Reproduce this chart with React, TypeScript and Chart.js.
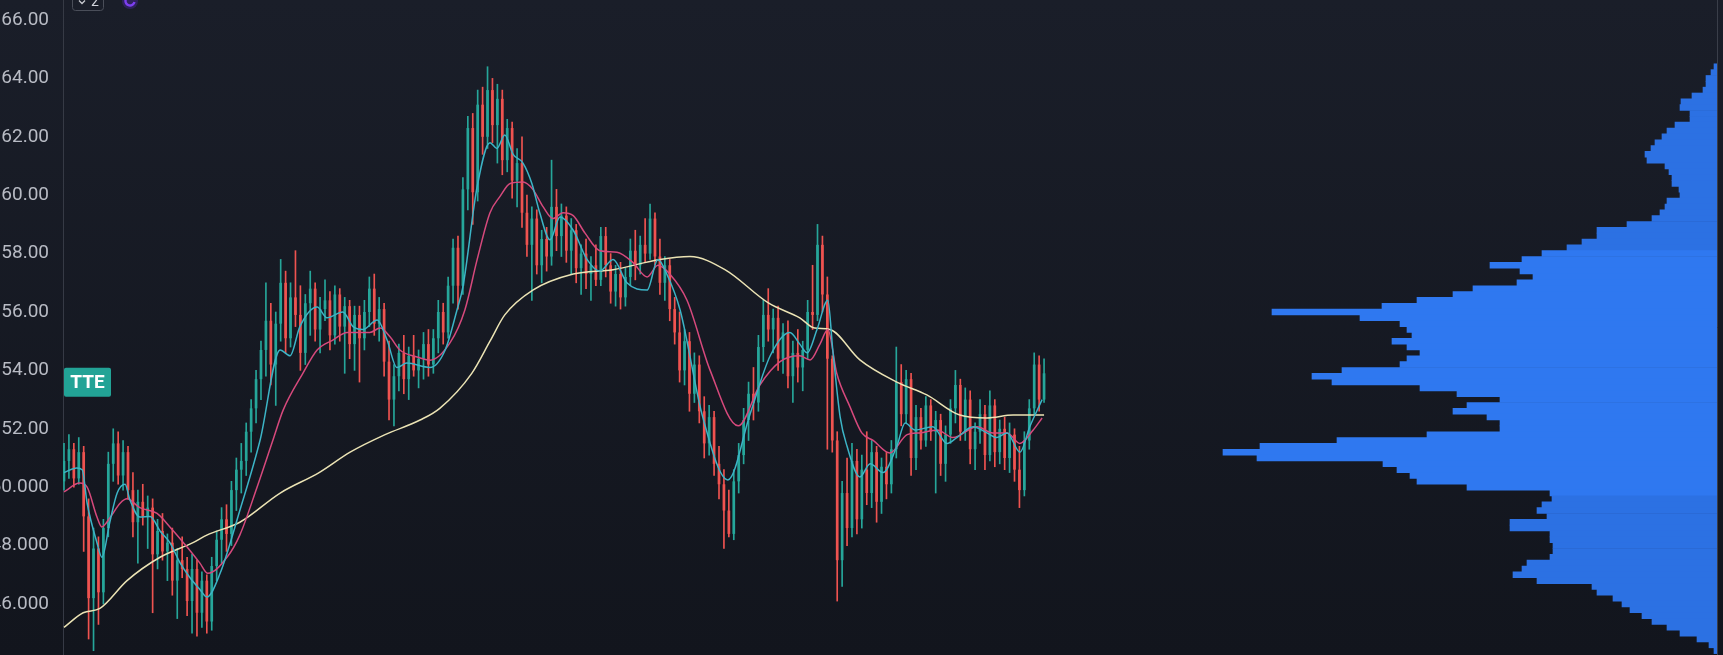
import React, { useEffect, useRef } from "react";
import { Chart, registerables } from "chart.js";

Chart.register(...registerables);

// ---------------- DATA ----------------
const symbol = "TTE";
const paneBadge = "2";

const opens = [
  50.2, 50.9, 51.3, 50.3, 51.2, 49.0, 46.2, 47.9, 46.4, 48.6,
  50.8, 51.5, 50.4, 51.2, 49.9, 48.8, 49.5, 49.0, 49.3, 47.7,
  48.5, 47.8, 48.1, 46.8, 47.5, 47.2, 46.1, 47.2, 45.7, 46.8,
  45.4, 47.3, 48.2, 48.9, 48.4, 49.9, 50.6, 50.9, 51.9, 52.7,
  53.7, 54.7, 55.7, 54.2, 55.6, 57.0, 55.1, 56.5, 55.9, 54.6,
  56.3, 56.8, 55.4, 56.1, 56.4, 55.2, 56.6, 55.5, 56.2, 54.9,
  55.9, 55.1, 56.0, 56.8, 55.6, 56.1, 54.3, 53.0, 53.8, 54.6,
  53.7, 54.5, 54.0, 54.4, 54.9, 54.2, 55.1, 56.0, 55.3, 56.9,
  58.2, 56.9, 60.2, 62.3, 60.1, 63.1, 62.0, 63.6, 62.4, 63.3,
  61.2, 62.3, 60.5, 61.1, 59.4, 58.3, 59.2, 57.6, 58.5, 57.9,
  59.6, 58.6, 59.3, 58.1, 58.8, 57.5, 58.0, 57.3, 57.6, 57.1,
  58.6, 57.6, 56.7, 57.3, 56.5, 57.2, 58.1, 57.6, 58.3, 58.0,
  59.2, 57.9, 57.0, 57.6, 56.1, 55.3, 54.0, 55.0, 53.2, 54.2,
  52.6, 51.5, 52.4, 50.8, 50.1, 49.2, 48.4, 50.2, 51.1, 52.3,
  53.2, 52.9, 54.8, 55.9, 55.4, 55.8, 54.4, 55.3, 53.8, 54.6,
  54.1, 54.7, 56.0, 55.9, 58.3, 56.6, 54.4, 51.6, 47.5, 49.8,
  48.6, 50.9, 48.9, 50.6, 49.8, 51.2, 49.5, 50.7, 50.1, 51.3,
  53.6, 52.5, 53.7, 51.0, 52.4, 51.6, 52.8, 51.9, 52.3, 50.8,
  51.8, 52.7, 53.5, 51.9, 53.0, 51.3, 51.9, 52.5, 51.1, 52.8,
  51.2, 52.0, 51.0, 51.8, 50.6, 49.9, 51.6, 52.7, 54.2, 53.0,
];

const highs = [
  51.5, 51.8, 51.5, 51.7, 51.4, 49.6, 48.6, 48.3, 48.9, 51.2,
  52.0, 51.9, 51.6, 51.4, 50.5, 49.9, 50.1, 49.7, 49.6, 48.9,
  49.1, 48.4, 48.6, 47.9, 48.3, 47.6, 47.7, 47.5, 47.1, 47.0,
  47.6, 48.5, 49.3, 49.4, 50.2, 51.0, 51.5, 52.2, 53.0, 54.0,
  55.0, 57.0, 56.3, 56.0, 57.8, 57.4, 57.0, 58.1, 56.9, 56.6,
  57.4, 57.0, 56.5, 57.1, 56.7, 56.9, 56.8, 56.5, 56.4, 56.2,
  56.2, 56.4, 57.2, 57.3, 56.5, 56.3, 55.0, 54.2, 54.9, 55.2,
  54.8, 55.2, 54.7, 55.3, 55.4, 55.4, 56.4, 56.3, 57.2, 58.5,
  58.6, 60.6, 62.7, 62.8, 63.6, 63.7, 64.4, 64.0, 63.8, 63.6,
  62.6, 62.5, 61.6, 62.0, 60.0, 59.6, 59.5, 58.8, 58.9, 61.2,
  60.2, 59.7, 59.6, 59.2, 59.0, 58.3, 58.5, 57.9, 58.3, 58.9,
  58.9, 58.0, 57.6, 57.7, 57.5, 58.5, 58.8, 58.6, 59.2, 59.7,
  59.4, 58.5, 57.9, 57.8, 56.5, 56.0, 55.4, 55.3, 54.6, 54.5,
  53.1, 52.8, 52.6, 51.4, 50.6, 49.9, 50.6, 51.5, 52.7, 53.6,
  54.1, 55.2, 56.4, 56.8, 56.1, 56.2, 55.6, 55.7, 55.0, 55.4,
  55.0, 56.4, 57.6, 59.0, 58.6, 57.2, 54.5, 51.9, 50.2, 51.0,
  51.5, 51.3, 51.1, 51.9, 51.6, 51.4, 51.0, 51.2, 51.6, 54.8,
  54.2, 54.0, 53.9, 52.8, 52.7, 53.1, 53.0, 52.6, 52.5, 52.1,
  53.0, 54.0, 53.7, 53.4, 53.3, 52.2, 53.0, 52.8, 53.3, 53.0,
  52.3, 52.4, 52.2, 52.0, 51.4, 51.9, 53.0, 54.6, 54.5, 54.4,
];

const lows = [
  49.9, 50.3, 50.0, 50.1, 47.8, 44.8, 44.4, 45.3, 46.0, 48.3,
  50.2, 50.1, 49.9, 49.6, 48.3, 47.4, 48.7, 47.9, 45.7, 47.2,
  47.5, 46.8, 46.3, 45.5, 46.9, 45.6, 45.0, 44.9, 45.2, 45.0,
  45.1, 46.8, 47.4, 47.8, 48.0, 49.2, 49.8, 50.4, 51.2, 52.2,
  53.0, 53.8, 53.5, 52.8, 55.0, 54.6, 54.8, 55.5, 54.0, 54.2,
  55.2, 55.0, 54.6, 55.7, 54.7, 54.9, 55.0, 53.9, 54.4, 54.0,
  53.6, 54.7, 55.5, 55.2, 55.0, 53.8, 52.3, 52.1, 53.3, 53.2,
  53.0, 53.8, 53.4, 53.7, 53.8, 53.9, 54.6, 54.9, 55.1, 56.3,
  56.1, 56.6, 59.5, 59.0, 59.8, 61.4, 61.6, 61.8, 61.1, 60.7,
  60.8, 59.9, 59.6, 58.9, 57.9, 56.4, 57.3, 57.0, 57.4, 57.6,
  58.1, 57.9, 57.7, 57.3, 57.0, 56.6, 56.8, 56.4, 56.9, 56.9,
  57.2, 56.3, 56.2, 56.1, 56.2, 56.9, 57.1, 57.3, 57.7, 57.8,
  57.6, 56.6, 56.4, 55.7, 54.9, 53.6, 53.5, 52.6, 52.9, 52.2,
  51.0, 51.1, 50.4, 49.6, 47.9, 48.3, 48.2, 49.8, 50.8, 51.6,
  52.3, 52.6, 54.3, 55.0, 54.6, 54.0, 53.9, 53.4, 52.9, 53.6,
  53.3, 54.4, 55.4, 55.7, 56.0, 51.3, 51.2, 46.1, 46.6, 48.0,
  48.3, 48.4, 48.6, 49.4, 49.3, 48.8, 49.1, 49.6, 49.8, 51.0,
  52.1, 52.2, 50.4, 50.6, 51.3, 51.4, 51.6, 49.8, 50.4, 50.2,
  51.5, 52.2, 51.6, 51.6, 50.8, 50.6, 51.5, 50.6, 50.9, 50.7,
  50.8, 50.6, 50.5, 50.2, 49.3, 49.7, 51.3, 52.5, 52.6, 52.9,
];

const closes = [
  50.9, 51.3, 50.3, 51.2, 49.0, 46.2, 47.9, 46.4, 48.6, 50.8,
  51.5, 50.4, 51.2, 49.9, 48.8, 49.5, 49.0, 49.3, 47.7, 48.5,
  47.8, 48.1, 46.8, 47.5, 47.2, 46.1, 47.2, 45.7, 46.8, 45.4,
  47.3, 48.2, 48.9, 48.4, 49.9, 50.6, 50.9, 51.9, 52.7, 53.7,
  54.7, 55.7, 54.2, 55.6, 57.0, 55.1, 56.5, 55.9, 54.6, 56.3,
  56.8, 55.4, 56.1, 56.4, 55.2, 56.6, 55.5, 56.2, 54.9, 55.9,
  55.1, 56.0, 56.8, 55.6, 56.1, 54.3, 53.0, 53.8, 54.6, 53.7,
  54.5, 54.0, 54.4, 54.9, 54.2, 55.1, 56.0, 55.3, 56.9, 58.2,
  56.9, 60.2, 62.3, 60.1, 63.1, 62.0, 63.6, 62.4, 63.3, 61.2,
  62.3, 60.5, 61.1, 59.4, 58.3, 59.2, 57.6, 58.5, 57.9, 59.6,
  58.6, 59.3, 58.1, 58.8, 57.5, 58.0, 57.3, 57.6, 57.1, 58.6,
  57.6, 56.7, 57.3, 56.5, 57.2, 58.1, 57.6, 58.3, 58.0, 59.2,
  57.9, 57.0, 57.6, 56.1, 55.3, 54.0, 55.0, 53.2, 54.2, 52.6,
  51.5, 52.4, 50.8, 50.1, 49.2, 48.4, 50.2, 51.1, 52.3, 53.2,
  52.9, 54.8, 55.9, 55.4, 55.8, 54.4, 55.3, 53.8, 54.6, 54.1,
  54.7, 56.0, 55.9, 58.3, 56.6, 54.4, 51.6, 47.5, 49.8, 48.6,
  50.9, 48.9, 50.6, 49.8, 51.2, 49.5, 50.7, 50.1, 51.3, 53.6,
  52.5, 53.7, 51.0, 52.4, 51.6, 52.8, 51.9, 52.3, 50.8, 51.8,
  52.7, 53.5, 51.9, 53.0, 51.3, 51.9, 52.5, 51.1, 52.8, 51.2,
  52.0, 51.0, 51.8, 50.6, 49.9, 51.6, 52.7, 54.2, 53.0, 53.9,
];

// moving averages: [bar index, value]
const fastMA: [number, number][] = [
  [0, 50.5], [2.6, 50.66], [3.7, 50.6], [4.7, 49.45], [6.7, 48.1], [7.7, 47.6], [9.3, 48.8],
  [10.8, 49.8], [12.4, 50.1], [13.4, 49.56], [15.4, 48.98], [17.5, 49.0], [19.5, 48.5],
  [21.5, 48.1], [23.6, 47.4], [25.6, 46.9], [27.6, 46.5], [29, 46.24], [31.7, 47.05],
  [35.7, 49.2], [39.8, 51.6], [43.9, 54.7], [45.9, 54.5], [47.9, 55.5], [51.4, 56.17],
  [53.4, 55.8], [56.6, 56.0], [58.7, 55.5], [60.7, 55.4], [63.6, 55.73], [65.6, 55.04],
  [67.6, 54.1], [69.6, 54.25], [74.3, 54.1], [77.4, 54.7], [79.8, 56.07], [81, 56.86],
  [83.9, 60.3], [86.5, 61.8], [87.9, 61.6], [89.5, 62.06], [91.2, 61.4], [93.2, 61.1],
  [95, 60.4], [96.6, 59.4], [98.7, 58.47], [100.7, 59.25], [103.4, 58.8], [106.2, 57.8],
  [108.8, 57.4], [111.5, 57.8], [114.3, 57.0], [118.4, 56.75], [120.6, 57.8], [122.4, 57.3],
  [125.1, 56.07], [129.7, 52.4], [134.8, 50.25], [139.3, 52.5], [143.4, 54.5], [147.4, 55.3],
  [149.4, 54.9], [150.9, 54.6], [152.9, 55.4], [155.1, 56.4], [156.1, 54.7], [157.6, 52.4],
  [159, 51.4], [161.6, 50.35], [163.7, 50.8], [166.3, 50.5], [169.1, 51.4], [170.8, 52.2],
  [172.8, 51.96], [176.4, 52.07], [179.3, 51.5], [181.3, 51.7], [184.6, 52.07], [187.4, 51.86],
  [189.4, 51.7], [191.5, 51.86], [194.1, 51.2], [196.1, 52.07], [198.6, 53.0],
];

const midMA: [number, number][] = [
  [0, 49.84], [3.2, 50.14], [4.7, 50.0], [6.7, 48.98], [7.7, 48.64], [9.3, 48.95], [11.4, 49.45],
  [12.8, 49.6], [15.4, 49.3], [18.9, 49.1], [21.5, 48.64], [25, 47.95], [27.6, 47.4],
  [29.2, 47.05], [33.1, 47.6], [35.7, 48.36], [39.2, 50.0], [42.4, 51.6], [44.5, 52.64],
  [48.5, 53.9], [51.4, 54.7], [54.6, 55.04], [57.5, 55.3], [62.1, 55.3], [64.2, 55.45],
  [66.2, 55.15], [68.2, 54.7], [71.7, 54.46], [74.3, 54.35], [78.4, 54.95], [81.4, 56.07],
  [83.9, 57.8], [86.5, 59.4], [88.5, 59.95], [90.6, 60.4], [93.2, 60.45], [95.2, 60.2],
  [97.3, 59.6], [99.3, 59.2], [101.3, 59.4], [103.4, 59.3], [105.8, 58.7], [108.8, 58.1],
  [112.3, 58.05], [115.5, 57.7], [118.4, 57.2], [120.6, 57.6], [123, 57.3], [126.5, 56.4],
  [131.2, 54.0], [136.9, 52.1], [141.3, 53.5], [145.4, 54.3], [149.4, 54.5], [151.5, 54.36],
  [153.5, 54.9], [155.1, 55.4], [156.9, 53.9], [159.6, 52.75], [162, 51.86], [164.3, 51.6],
  [167.7, 51.17], [171.2, 51.8], [173.8, 51.86], [177.3, 51.96], [180.5, 51.7], [185.4, 52.07],
  [188.6, 51.86], [191.5, 51.86], [194.1, 51.5], [196.8, 51.96], [198.6, 52.37],
];

const slowMA: [number, number][] = [
  [0, 45.2], [3.9, 45.7], [7.3, 45.85], [12.8, 46.8], [19.5, 47.6], [26.2, 48.1], [29, 48.36],
  [35.7, 48.8], [43.9, 49.8], [51.8, 50.5], [58.1, 51.2], [65.2, 51.8], [72.3, 52.3],
  [76.3, 52.7], [82.8, 53.9], [86.5, 55.0], [89.5, 55.9], [95.2, 56.75], [103.4, 57.3],
  [111.5, 57.45], [121, 57.8], [127.1, 57.9], [134.2, 57.45], [143.1, 56.3], [149.4, 55.8],
  [152.4, 55.45], [155.5, 55.4], [161.6, 54.36], [169.1, 53.6], [175.2, 53.16], [181.9, 52.47],
  [187.4, 52.37], [192.7, 52.47], [199, 52.47],
];

// volume profile rows: [price level, relative volume]
const volumeProfile: [number, number][] = [
  [64.4, 3], [64.2, 6], [64.0, 11], [63.8, 11], [63.6, 14], [63.4, 25], [63.2, 36], [63.0, 37],
  [62.8, 27], [62.6, 27], [62.4, 42], [62.2, 50], [62.0, 55], [61.8, 62], [61.6, 66], [61.4, 72],
  [61.2, 70], [61.0, 52], [60.8, 48], [60.6, 45], [60.4, 45], [60.2, 38], [60.0, 37], [59.8, 50],
  [59.6, 52], [59.4, 57], [59.2, 65], [59.0, 90], [58.8, 120], [58.6, 120], [58.4, 135], [58.2, 150],
  [58.0, 175], [57.8, 195], [57.6, 227], [57.4, 197], [57.2, 184], [57.0, 200], [56.8, 244], [56.6, 264],
  [56.4, 300], [56.2, 335], [56.0, 445], [55.8, 357], [55.6, 317], [55.4, 310], [55.2, 305], [55.0, 325],
  [54.8, 310], [54.6, 297], [54.4, 310], [54.2, 317], [54.0, 375], [53.8, 405], [53.6, 385], [53.4, 297],
  [53.2, 260], [53.0, 217], [52.8, 250], [52.6, 264], [52.4, 230], [52.2, 217], [52.0, 217], [51.8, 290],
  [51.6, 380], [51.4, 457], [51.2, 494], [51.0, 460], [50.8, 334], [50.6, 320], [50.4, 307], [50.2, 300],
  [50.0, 250], [49.8, 167], [49.6, 165], [49.4, 175], [49.2, 180], [49.0, 170], [48.8, 207], [48.6, 207],
  [48.4, 167], [48.2, 167], [48.0, 164], [47.8, 164], [47.6, 167], [47.4, 190], [47.2, 195], [47.0, 204],
  [46.8, 180], [46.6, 125], [46.4, 120], [46.2, 104], [46.0, 95], [45.8, 87], [45.6, 75], [45.4, 65],
  [45.2, 50], [45.0, 37], [44.8, 20], [44.6, 8], [44.4, 3],
];
const valueAreaHigh = 58.0;
const valueAreaLow = 49.8;

const tickValues = [46, 48, 50, 52, 54, 56, 58, 60, 62, 64, 66];
const tickLabels = ["46.000", "48.000", "50.000", "52.00", "54.00", "56.00", "58.00", "60.00", "62.00", "64.00", "66.00"];
const symbolLabelPrice = 53.59;

// ---------------- VIEW SETTINGS ----------------
const W = 1723;
const H = 655;
const yMin = 44.253;
const yMax = 66.685;
const xMin = -0.2;
const xMax = 335.64;
const profileAxisMax = 1654;
const UP = "#26a69a";
const DOWN = "#ef5350";

const bgPlugin = {
  id: "bg",
  beforeDraw(chart: any) {
    const { ctx, width, height } = chart;
    const g = ctx.createLinearGradient(0, 0, 0, height);
    g.addColorStop(0, "#1a1e29");
    g.addColorStop(1, "#12151d");
    ctx.save();
    ctx.fillStyle = g;
    ctx.fillRect(0, 0, width, height);
    ctx.restore();
  },
};

const overlayPlugin = {
  id: "overlay",
  afterDraw(chart: any) {
    const { ctx, chartArea } = chart;
    const yScale = chart.scales.y;
    ctx.save();
    // right border of pane
    ctx.strokeStyle = "#3a3e49";
    ctx.lineWidth = 1;
    ctx.beginPath();
    ctx.moveTo(chartArea.right + 0.5, 0);
    ctx.lineTo(chartArea.right + 0.5, H);
    ctx.stroke();

    // symbol label
    const cy = yScale.getPixelForValue(symbolLabelPrice);
    const bx = chartArea.left + 1;
    const bh = 29;
    const bw = 47;
    ctx.fillStyle = "#22a396";
    ctx.beginPath();
    (ctx as any).roundRect(bx, cy - bh / 2, bw, bh, 2);
    ctx.fill();
    ctx.fillStyle = "#ffffff";
    ctx.font = "bold 19px Roboto";
    ctx.textAlign = "center";
    ctx.textBaseline = "middle";
    ctx.fillText(symbol, bx + bw / 2, cy + 1);

    // top-left pane badge
    ctx.strokeStyle = "#4a4e59";
    ctx.lineWidth = 1;
    ctx.beginPath();
    (ctx as any).roundRect(72.5, -8.5, 31, 19, 3);
    ctx.stroke();
    ctx.strokeStyle = "#c8cad0";
    ctx.lineWidth = 1.3;
    ctx.beginPath();
    ctx.moveTo(79, 0.5);
    ctx.lineTo(82, 3.5);
    ctx.lineTo(85, 0.5);
    ctx.stroke();
    ctx.fillStyle = "#d1d4dc";
    ctx.font = "14px Roboto";
    ctx.textAlign = "left";
    ctx.textBaseline = "alphabetic";
    ctx.fillText(paneBadge, 91, 6);

    // purple refresh icon
    ctx.fillStyle = "rgba(90,40,190,0.35)";
    ctx.beginPath();
    ctx.arc(130, 1, 8, 0, Math.PI * 2);
    ctx.fill();
    ctx.strokeStyle = "#7d3ff0";
    ctx.lineWidth = 2.4;
    ctx.beginPath();
    ctx.arc(130, 1, 4.5, 0.2, Math.PI * 1.7);
    ctx.stroke();
    ctx.restore();
  },
};

export default function App() {
  const ref = useRef<HTMLCanvasElement>(null);

  useEffect(() => {
    document.body.style.margin = "0";
    const canvas = ref.current!;
    const candleColors = closes.map((c, i) => (c >= opens[i] ? UP : DOWN));
    const profileColors = volumeProfile.map(([p]) =>
      p <= valueAreaHigh && p >= valueAreaLow ? "#2f78f0" : "#2c71e3"
    );

    const line = (label: string, pts: [number, number][], color: string, order: number) => ({
      type: "line" as const,
      label,
      data: pts.map(([x, y]) => ({ x, y })),
      borderColor: color,
      borderWidth: 1.5,
      pointRadius: 0,
      cubicInterpolationMode: "monotone" as const,
      xAxisID: "x",
      yAxisID: "y",
      order,
    });

    const chart = new Chart(canvas, {
      type: "bar",
      data: {
        datasets: [
          line("MA fast", fastMA, "#3cb4c6", 0),
          line("MA mid", midMA, "#d6497c", 1),
          line("MA slow", slowMA, "#ebe3b4", 2),
          {
            type: "bar",
            label: "body",
            data: opens.map((o, i) => ({ x: i, y: [o, closes[i]] })) as any,
            backgroundColor: candleColors,
            barPercentage: 0.55,
            categoryPercentage: 1,
            grouped: false,
            minBarLength: 1,
            xAxisID: "x",
            yAxisID: "y",
            order: 3,
          },
          {
            type: "bar",
            label: "wick",
            data: highs.map((h, i) => ({ x: i, y: [lows[i], h] })) as any,
            backgroundColor: candleColors,
            barThickness: 1,
            grouped: false,
            xAxisID: "x",
            yAxisID: "y",
            order: 4,
          },
          {
            type: "bar",
            label: "Volume profile",
            indexAxis: "y",
            data: volumeProfile.map(([p, v]) => ({ x: v, y: p })) as any,
            backgroundColor: profileColors,
            barPercentage: 1,
            categoryPercentage: 1,
            grouped: false,
            xAxisID: "xv",
            yAxisID: "yv",
            order: 10,
          } as any,
        ],
      },
      options: {
        responsive: false,
        animation: false,
        devicePixelRatio: 1,
        events: [],
        layout: { padding: { left: 0, right: 6, top: 0, bottom: 0 } },
        plugins: { legend: { display: false }, tooltip: { enabled: false } },
        scales: {
          x: { type: "linear", min: xMin, max: xMax, display: false, offset: false },
          y: {
            type: "linear",
            position: "left",
            min: yMin,
            max: yMax,
            offset: false,
            grid: { display: false, drawTicks: false },
            border: { display: true, color: "#363a45", width: 1 },
            ticks: {
              autoSkip: false,
              padding: 14,
              color: "#b8bbc4",
              font: { family: "Roboto", size: 19 },
              callback: (v: any) => {
                const k = tickValues.indexOf(Number(v));
                return k >= 0 ? tickLabels[k] : "";
              },
            },
            afterBuildTicks: (s: any) => {
              s.ticks = tickValues.map((v) => ({ value: v }));
            },
            afterFit: (s: any) => {
              s.width = 63;
              s.paddingTop = 0;
              s.paddingBottom = 0;
            },
          },
          xv: { type: "linear", axis: "x", min: 0, max: profileAxisMax, reverse: true, display: false, offset: false },
          yv: { type: "linear", axis: "y", min: yMin, max: yMax, display: false, offset: false },
        } as any,
      },
      plugins: [bgPlugin, overlayPlugin],
    });
    return () => chart.destroy();
  }, []);

  return (
    <div style={{ position: "fixed", left: 0, top: 0, width: W, height: H }}>
      <canvas ref={ref} width={W} height={H} style={{ display: "block", width: W, height: H }} />
    </div>
  );
}
